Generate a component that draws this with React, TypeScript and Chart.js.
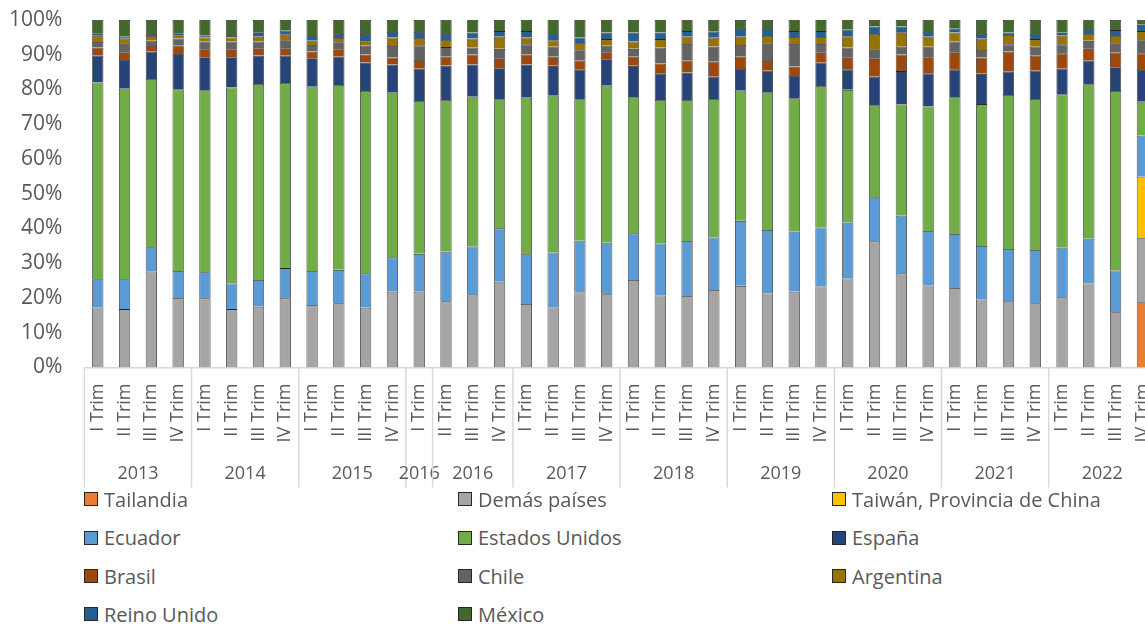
import React, { useEffect, useRef } from 'react';
import { Chart, registerables } from 'chart.js';

Chart.register(...registerables);

const quarterLabels = [
  'I Trim', 'II Trim', 'III Trim', 'IV Trim',
  'I Trim', 'II Trim', 'III Trim', 'IV Trim',
  'I Trim', 'II Trim', 'III Trim', 'IV Trim',
  'I Trim',
  'II Trim', 'III Trim', 'IV Trim',
  'I Trim', 'II Trim', 'III Trim', 'IV Trim',
  'I Trim', 'II Trim', 'III Trim', 'IV Trim',
  'I Trim', 'II Trim', 'III Trim', 'IV Trim',
  'I Trim', 'II Trim', 'III Trim', 'IV Trim',
  'I Trim', 'II Trim', 'III Trim', 'IV Trim',
  'I Trim', 'II Trim', 'III Trim', 'IV Trim',
];

const yearLabels = ['2013', '2014', '2015', '2016', '2016', '2017', '2018', '2019', '2020', '2021', '2022'];
const yearSizes = [4, 4, 4, 1, 3, 4, 4, 4, 4, 4, 4];

const N = null;
const tailandia = [N, N, N, N, N, N, N, N, N, N, N, N, N, N, N, N, N, N, N, N, N, N, N, N, N, N, N, N, N, N, N, N, N, N, N, N, N, N, N, 18.8];
const demasPaises = [17.3, 16.8, 27.6, 20.0, 19.9, 16.8, 17.5, 19.9, 18.0, 18.5, 17.2, 21.8, 21.8, 19.1, 21.1, 24.7, 18.3, 17.3, 21.6, 21.1, 25.2, 20.7, 20.6, 22.3, 23.5, 21.3, 21.8, 23.3, 25.6, 36.3, 27.1, 23.6, 22.9, 19.6, 19.1, 18.5, 20.2, 24.2, 15.9, 18.4];
const taiwan = [N, N, N, N, N, N, N, N, N, N, N, N, N, N, N, N, N, N, N, N, N, N, N, N, N, N, N, N, N, N, N, N, N, N, N, N, N, N, N, 17.7];
const ecuador = [8.1, 8.6, 7.0, 7.8, 7.5, 7.4, 7.7, 8.7, 9.8, 9.6, 9.9, 9.9, 10.9, 14.2, 13.7, 15.35, 14.3, 15.8, 14.9, 14.8, 13.4, 15.0, 15.8, 15.1, 18.7, 18.3, 17.3, 17.0, 16.1, 12.7, 16.6, 15.7, 15.5, 15.4, 15.0, 15.3, 14.3, 12.9, 12.0, 11.8];
const estadosUnidos = [56.6, 54.8, 48.4, 52.25, 52.4, 56.4, 56.4, 53.3, 53.0, 53.2, 52.5, 47.4, 44.0, 43.7, 43.1, 37.15, 45.05, 45.1, 40.7, 45.2, 39.15, 41.3, 40.6, 39.9, 37.45, 39.6, 38.4, 40.7, 38.2, 26.5, 32.0, 35.8, 39.35, 40.8, 44.3, 43.5, 44.1, 44.4, 51.7, 9.8];
const espana = [7.7, 8.3, 7.8, 10.15, 9.5, 8.7, 8.2, 7.8, 8.2, 8.15, 8.2, 8.1, 9.3, 9.9, 9.3, 8.9, 9.55, 8.6, 8.6, 7.6, 9.05, 7.65, 7.9, 6.4, 6.25, 6.2, 6.4, 6.7, 5.9, 8.2, 9.6, 9.55, 8.05, 8.7, 6.7, 8.1, 7.4, 6.8, 6.8, 9.1];
const brasil = [2.4, 2.2, 1.7, 2.4, 2.3, 2.3, 2.05, 2.15, 1.9, 2.15, 2.3, 2.0, 2.5, 2.55, 2.9, 2.9, 2.9, 2.65, 2.5, 2.0, 2.65, 2.85, 3.4, 4.3, 3.55, 2.8, 2.7, 3.0, 3.5, 5.3, 4.8, 4.65, 4.9, 4.7, 5.8, 4.3, 4.4, 3.55, 4.2, 4.8];
const chile = [1.6, 2.6, 1.5, 2.1, 2.2, 2.2, 1.95, 2.35, 1.9, 2.0, 2.5, 3.3, 4.2, 2.75, 2.0, 2.7, 2.9, 2.85, 3.0, 1.9, 2.25, 4.6, 4.8, 4.35, 3.35, 5.1, 6.5, 2.4, 2.8, 2.6, 2.2, 3.0, 3.1, 2.2, 2.1, 2.6, 2.6, 2.15, 2.7, 3.8];
const argentina = [1.9, 1.3, 1.35, 0.9, 1.2, 1.2, 1.4, 1.7, 1.25, 1.2, 1.3, 2.5, 2.1, 2.05, 2.6, 3.5, 2.0, 1.85, 2.1, 1.9, 2.1, 2.4, 2.1, 2.55, 2.4, 2.1, 2.0, 2.0, 3.2, 4.4, 4.2, 2.9, 2.6, 3.2, 2.7, 2.2, 2.5, 2.0, 2.1, 2.6];
const reinoUnido = [0.6, 0.6, 0.6, 0.6, 0.5, 0.4, 1.3, 1.0, 1.35, 1.2, 2.1, 1.55, 1.75, 1.75, 1.7, 1.6, 1.8, 1.85, 1.6, 1.9, 2.6, 1.9, 1.6, 1.7, 2.2, 2.0, 1.7, 1.7, 1.9, 2.1, 1.6, 1.35, 1.1, 1.4, 0.7, 1.5, 0.8, 1.4, 1.7, 1.8];
const mexico = [3.8, 4.8, 4.0, 3.8, 4.5, 4.6, 3.5, 3.1, 4.6, 4.0, 4.0, 3.45, 3.45, 4.0, 3.6, 3.2, 3.2, 4.0, 5.0, 3.6, 3.6, 3.6, 3.2, 3.4, 2.6, 2.6, 3.2, 3.2, 2.8, 1.9, 1.9, 3.45, 2.5, 4.0, 3.6, 4.0, 3.7, 2.6, 2.9, 1.4];

const yTicks = [0, 10, 20, 30, 40, 50, 60, 70, 80, 90, 100];

const seriesNames = ['Tailandia', 'Demás países', 'Taiwán, Provincia de China', 'Ecuador', 'Estados Unidos', 'España', 'Brasil', 'Chile', 'Argentina', 'Reino Unido', 'México'];
const seriesValues = [tailandia, demasPaises, taiwan, ecuador, estadosUnidos, espana, brasil, chile, argentina, reinoUnido, mexico];
const seriesColors = ['#ED7D31', '#A5A5A5', '#FFC000', '#5B9BD5', '#70AD47', '#264478', '#9E480E', '#636363', '#997300', '#255E91', '#43682B'];

const FONT = "'Open Sans', 'Noto Sans', sans-serif";
const TEXT = '#595959';
const CANVAS_W = 1180;
const CANVAS_H = 492;
const Y_AXIS_W = 84.4;
const X_AXIS_H = 124.5;

const yearGroupPlugin = {
  id: 'yearGroups',
  afterDraw(chart: any) {
    const x = chart.scales.x;
    const ctx = chart.ctx;
    const step = x.getPixelForValue(1) - x.getPixelForValue(0);
    const top = chart.chartArea.bottom;
    ctx.save();
    ctx.strokeStyle = '#D9D9D9';
    ctx.lineWidth = 1.5;
    ctx.fillStyle = TEXT;
    ctx.font = `18px ${FONT}`;
    ctx.textAlign = 'center';
    ctx.textBaseline = 'middle';
    let idx = 0;
    const drawLine = (px: number) => {
      ctx.beginPath();
      ctx.moveTo(px, top);
      ctx.lineTo(px, top + 120);
      ctx.stroke();
    };
    yearSizes.forEach((n, g) => {
      const left = x.getPixelForValue(idx) - step / 2;
      const right = x.getPixelForValue(idx + n - 1) + step / 2;
      drawLine(left);
      if (g === yearSizes.length - 1) drawLine(right);
      ctx.fillText(yearLabels[g], (left + right) / 2, top + 106);
      idx += n;
    });
    ctx.restore();
  },
};

function Legend() {
  const cols = [84, 458, 832];
  const rows = [499, 537.5, 576, 614];
  return (
    <>
      {seriesNames.map((name, i) => {
        const c = i % 3;
        const r = Math.floor(i / 3);
        return (
          <div
            key={name}
            style={{
              position: 'absolute',
              left: cols[c],
              top: rows[r] - 15,
              height: 30,
              display: 'flex',
              alignItems: 'center',
              fontFamily: FONT,
              fontSize: 20,
              color: TEXT,
              whiteSpace: 'nowrap',
            }}
          >
            <span
              style={{
                display: 'inline-block',
                width: 12,
                height: 12,
                background: seriesColors[i],
                border: '1px solid #262626',
                marginRight: 6,
              }}
            />
            <span>{name}</span>
          </div>
        );
      })}
    </>
  );
}

export default function App() {
  const canvasRef = useRef<HTMLCanvasElement | null>(null);

  useEffect(() => {
    if (!canvasRef.current) return;
    const totals = quarterLabels.map((_, i) =>
      seriesValues.reduce((s, arr) => s + (arr[i] ?? 0), 0)
    );
    const datasets = seriesNames.map((name, k) => ({
      label: name,
      data: seriesValues[k].map((v, i) => (v === null ? null : (v / totals[i]) * 100)),
      backgroundColor: seriesColors[k],
      borderColor: 'rgba(0,0,0,0.85)',
      borderWidth: 0.8,
      barPercentage: 0.42,
      categoryPercentage: 1,
    }));

    const chart = new Chart(canvasRef.current, {
      type: 'bar',
      data: { labels: quarterLabels, datasets },
      plugins: [yearGroupPlugin],
      options: {
        animation: false,
        responsive: false,
        maintainAspectRatio: false,
        layout: { padding: { top: 20, left: 0, right: 0, bottom: 0 } },
        plugins: {
          legend: { display: false },
          tooltip: { enabled: false },
          title: { display: false },
        },
        scales: {
          x: {
            stacked: true,
            grid: { display: false, drawTicks: false },
            border: { display: true, color: '#D9D9D9', width: 1.5 },
            ticks: {
              autoSkip: false,
              maxRotation: 90,
              minRotation: 90,
              padding: 16,
              color: TEXT,
              font: { family: FONT, size: 18 },
            },
            afterFit: (s: any) => {
              s.height = X_AXIS_H;
            },
          },
          y: {
            stacked: true,
            min: 0,
            max: 100,
            grid: { display: false, drawTicks: false },
            border: { display: false },
            afterBuildTicks: (s: any) => {
              s.ticks = yTicks.map((v) => ({ value: v }));
            },
            ticks: {
              padding: 22,
              color: TEXT,
              font: { family: FONT, size: 21 },
              callback: (v: any) => `${v}%`,
            },
            afterFit: (s: any) => {
              s.width = Y_AXIS_W;
              s.paddingTop = 0;
              s.paddingBottom = 0;
            },
          },
        },
      },
    });
    return () => chart.destroy();
  }, []);

  return (
    <div
      style={{
        position: 'absolute',
        left: 0,
        top: 0,
        width: 1145,
        height: 624,
        overflow: 'hidden',
        background: '#fff',
      }}
    >
      <canvas
        ref={canvasRef}
        width={CANVAS_W}
        height={CANVAS_H}
        style={{ position: 'absolute', left: 0, top: 0, width: CANVAS_W, height: CANVAS_H }}
      />
      <Legend />
    </div>
  );
}
